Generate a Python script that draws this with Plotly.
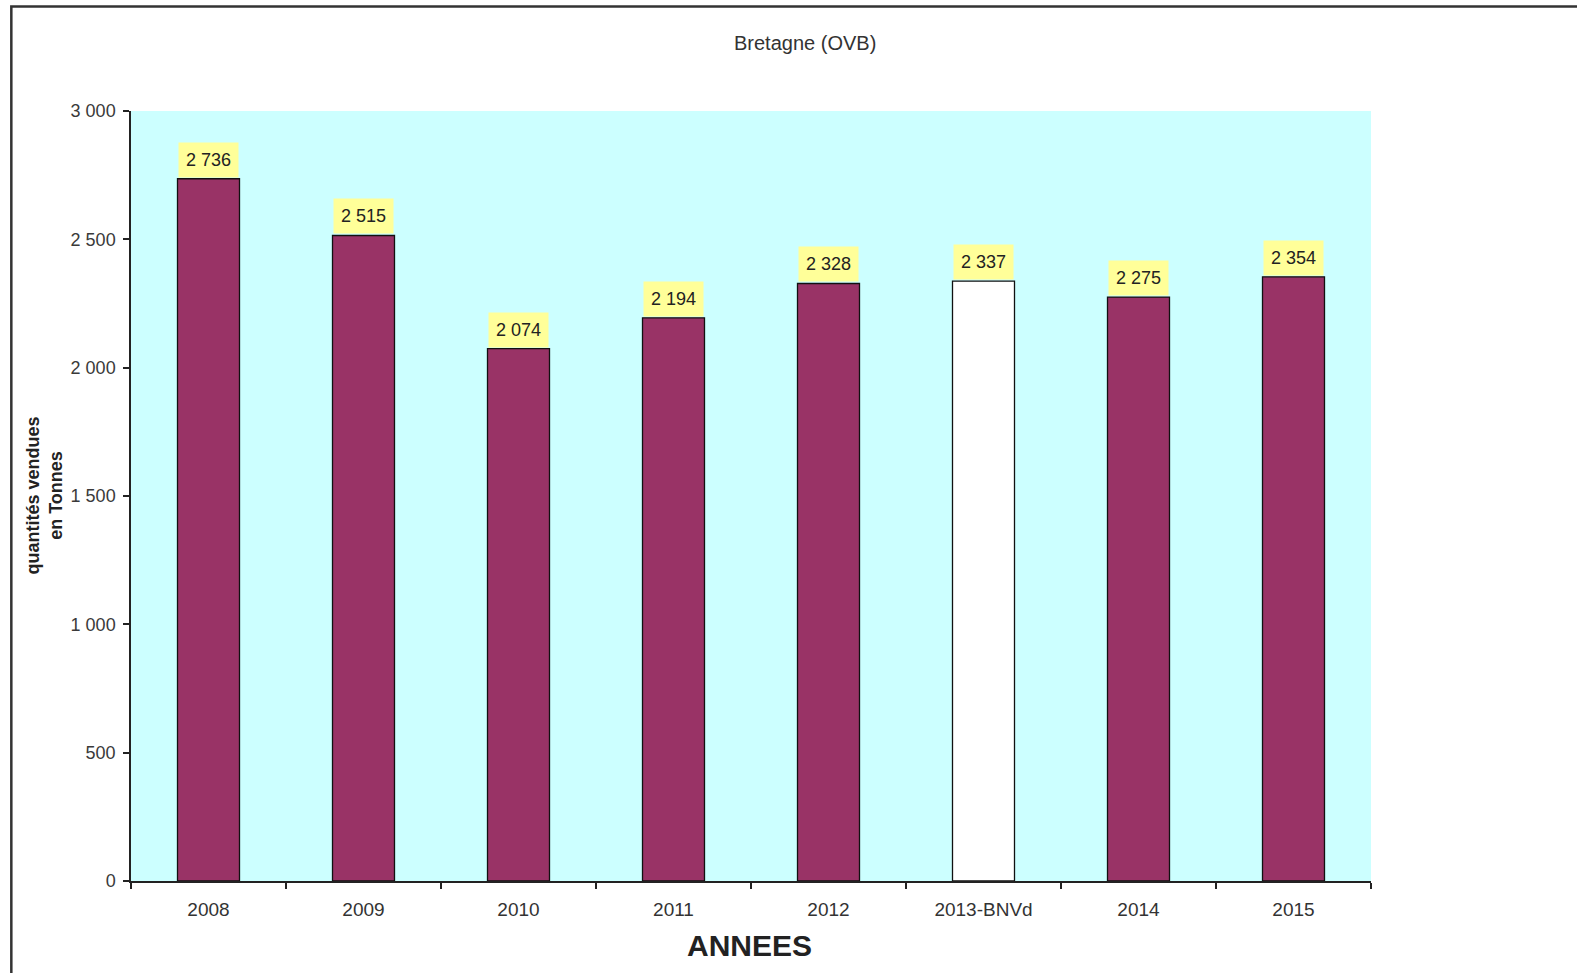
import plotly.graph_objects as go

categories = ["2008", "2009", "2010", "2011", "2012", "2013-BNVd", "2014", "2015"]
values = [2736, 2515, 2074, 2194, 2328, 2337, 2275, 2354]
labels = ["2 736", "2 515", "2 074", "2 194", "2 328", "2 337", "2 275", "2 354"]
bar_colors = ["#993366", "#993366", "#993366", "#993366", "#993366", "#ffffff", "#993366", "#993366"]

# the photographed page comes out slightly reduced; compensate
S = 0.9942
W, H = 1577, 973


def s(v):
    return v / S


# plot area in (target) screen pixels
L, R, T, B = s(130), s(1363), s(110), s(876)
FONT = "Liberation Sans, Arial"


def px(xs):
    return (s(xs) - L) / (R - L)


def py(ys):
    return (B - s(ys)) / (B - T)


fig = go.Figure()
fig.add_trace(go.Bar(
    x=categories, y=values,
    marker=dict(color=bar_colors, line=dict(color="#111111", width=1.3)),
    width=0.4, hoverinfo="x+y",
))

for i, (v, t) in enumerate(zip(values, labels)):
    fig.add_annotation(x=i, y=v, text=t, showarrow=False, yanchor="bottom",
                       yshift=1, bgcolor="#ffff99", borderpad=7,
                       font=dict(family=FONT, size=18, color="#222222"))

fig.add_annotation(xref="paper", yref="paper", x=px(800), y=py(42),
                   text="Bretagne (OVB)", showarrow=False, xanchor="center", yanchor="middle",
                   font=dict(family=FONT, size=20, color="#333333"))
fig.add_annotation(xref="paper", yref="paper", x=px(745), y=py(940),
                   text="<b>ANNEES</b>", showarrow=False, xanchor="center", yanchor="middle",
                   font=dict(family=FONT, size=30, color="#222222"))
fig.add_annotation(xref="paper", yref="paper", x=px(43), y=py(493),
                   text="<b>quantités vendues<br>en Tonnes</b>", showarrow=False, textangle=-90,
                   xanchor="center", yanchor="middle",
                   font=dict(family=FONT, size=18, color="#222222"))

# outer frame
fig.add_shape(type="rect", xref="paper", yref="paper",
              x0=px(11), x1=px(1620), y0=py(1020), y1=py(6),
              line=dict(color="#333333", width=2.5), layer="below")

n = len(categories)
bounds = [i - 0.5 for i in range(n + 1)]

fig.update_layout(
    width=W, height=H,
    margin=dict(l=L, r=W - R, t=T, b=H - B),
    paper_bgcolor="white", plot_bgcolor="#ccffff",
    separators=", ",
    showlegend=False,
    font=dict(family=FONT, size=13, color="#333333"),
    xaxis=dict(type="category", showgrid=False, showline=True, linecolor="#222222", linewidth=1.5,
               ticks="outside", tickson="boundaries", ticklen=6, tickcolor="#222222", tickwidth=1.5,
               ticklabelstandoff=10,
               tickfont=dict(size=19, color="#333333"), range=[-0.5, n - 0.5]),
    xaxis2=dict(overlaying="x", anchor="y", side="bottom", range=[-0.5, n - 0.5],
                tickvals=bounds, ticks="inside", ticklen=6, tickcolor="#222222", tickwidth=1.5,
                showticklabels=False, showgrid=False, showline=False, zeroline=False),
    yaxis=dict(range=[0, 3000], dtick=500, tickformat=",d", showgrid=False,
               showline=True, linecolor="#222222", linewidth=1.5,
               ticks="outside", ticklen=6, tickcolor="#222222", tickwidth=1.5,
               ticklabelstandoff=4,
               tickfont=dict(size=18, color="#3a3a3a"), zeroline=False),
    yaxis2=dict(overlaying="y", anchor="x", side="left", range=[0, 3000], dtick=500,
                ticks="inside", ticklen=5, tickcolor="#222222", tickwidth=1.5,
                showticklabels=False, showgrid=False, showline=False, zeroline=False),
)

fig.write_html(
    "out.html",
    config={"displayModeBar": False},
    post_script=(
        "document.body.style.margin='0';"
        "document.body.style.overflow='hidden';"
        "document.documentElement.style.overflow='hidden';"
    ),
)
